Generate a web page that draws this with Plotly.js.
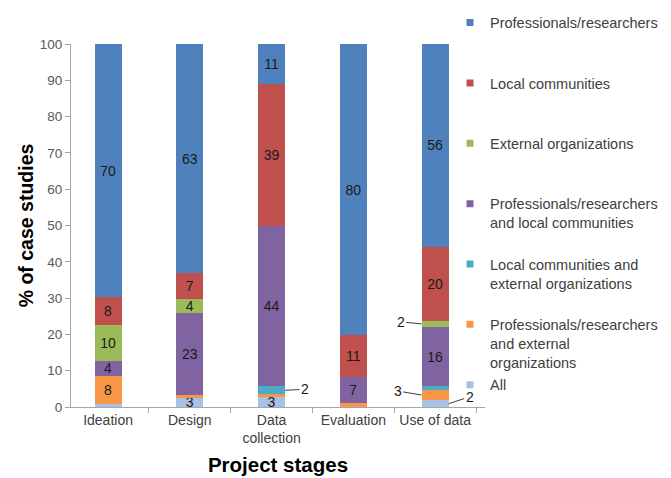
<!DOCTYPE html>
<html>
<head>
<meta charset="utf-8">
<script src="https://cdn.plot.ly/plotly-3.0.1.min.js"></script>
<style>html,body{margin:0;padding:0;background:#fff;}#chart{width:671px;height:478px;}</style>
</head>
<body>
<div id="chart"></div>
<script>
// Categories (tick labels)
var stages = ['Ideation', 'Design', 'Data<br>collection', 'Evaluation', 'Use of data'];

// Series values (% of case studies), bottom of stack to top
var allGroups        = [0.8, 2.6, 2.8, 0.0, 1.8];
var profExternal     = [7.8, 0.7, 0.7, 1.0, 3.0];
var localExternal    = [0.0, 0.0, 2.2, 0.0, 0.9];
var profLocal        = [4.1, 22.7, 44.3, 7.3, 16.3];
var externalOrgs     = [9.8, 3.8, 0.0, 0.0, 1.8];
var localCommunities = [7.8, 7.0, 39.0, 11.4, 20.4];
var professionals    = [69.7, 63.2, 11.0, 80.3, 55.8];

var seriesNames = [
  'All',
  'Professionals/researchers<br>and external<br>organizations',
  'Local communities and<br>external organizations<br> ',
  'Professionals/researchers<br>and local communities<br> ',
  'External organizations<br> <br> ',
  'Local communities<br> <br> ',
  'Professionals/researchers<br> <br> '
];
var seriesValues = [allGroups, profExternal, localExternal, profLocal, externalOrgs, localCommunities, professionals];
var seriesColors = ['#A7C0E3', '#F79646', '#4BACC6', '#8064A2', '#9BBB59', '#C0504D', '#4F81BD'];

// labels drawn outside with leader lines: [series index, category index]
var callouts = [[2, 2], [4, 4], [1, 4], [0, 4]];
function isCallout(s, i) {
  return callouts.some(function (c) { return c[0] === s && c[1] === i; });
}

var FONT = 'Liberation Sans, Arial, sans-serif';
var N = seriesValues.length;

var traces = seriesValues.map(function (vals, s) {
  return {
    type: 'bar',
    x: stages,
    y: vals,
    name: seriesNames[s],
    showlegend: false,
    marker: {color: seriesColors[s], line: {width: 0}},
    width: 0.33,
    text: vals.map(function (v, i) { return (v >= 2.5 && !isCallout(s, i)) ? String(Math.round(v)) : ''; }),
    texttemplate: '%{text}',
    textposition: 'inside',
    insidetextanchor: 'middle',
    textangle: 0,
    constraintext: 'none',
    insidetextfont: {family: FONT, size: 14, color: '#1a1a1a'},
    hoverinfo: 'skip'
  };
});

// legend entries (small square keys like the original)
seriesValues.forEach(function (vals, s) {
  traces.push({
    type: 'scatter', mode: 'markers',
    x: [null], y: [null],
    name: seriesNames[s],
    legendgroup: 'g' + s,
    legendrank: 100 + (N - 1 - s),
    marker: {symbol: 'square', size: 7, color: seriesColors[s], line: {width: 0}},
    hoverinfo: 'skip'
  });
});

function cumulativeMid(s, i) {
  var base = 0;
  for (var k = 0; k < s; k++) base += seriesValues[k][i];
  return base + seriesValues[s][i] / 2;
}

var calloutOffsets = [
  {dx: 0.165, ax: 20, ay: -1},
  {dx: -0.165, ax: -21, ay: -2},
  {dx: -0.165, ax: -24, ay: -4},
  {dx: 0.165, ax: 21, ay: -7}
];
var annotations = callouts.map(function (c, k) {
  var o = calloutOffsets[k];
  return {
    x: c[1] + o.dx, y: cumulativeMid(c[0], c[1]), xref: 'x', yref: 'y',
    text: String(Math.round(seriesValues[c[0]][c[1]])),
    showarrow: true, arrowhead: 0, arrowwidth: 1, arrowcolor: '#404040',
    ax: o.ax, ay: o.ay, standoff: 0,
    font: {family: FONT, size: 14, color: '#1a1a1a'}
  };
});

var layout = {
  width: 671, height: 478,
  margin: {l: 71, r: 186, t: 44, b: 71, pad: 0, autoexpand: false},
  paper_bgcolor: '#ffffff', plot_bgcolor: '#ffffff',
  barmode: 'stack',
  font: {family: FONT, size: 13, color: '#404040'},
  showlegend: true,
  legend: {
    x: 0.9155, xanchor: 'left', y: 1.1028, yanchor: 'top',
    traceorder: 'grouped', tracegroupgap: 0.8, valign: 'top',
    maxheight: 478,
    font: {family: FONT, size: 14.5, color: '#404040'},
    bgcolor: 'rgba(0,0,0,0)'
  },
  xaxis: {
    type: 'category',
    range: [-0.453, 4.61],
    showline: true, linecolor: '#a6a6a6', linewidth: 1,
    ticks: 'outside', tickson: 'boundaries', ticklen: 5, tickcolor: '#a6a6a6',
    showgrid: false, zeroline: false,
    tickfont: {family: FONT, size: 14, color: '#404040'},
    title: {text: 'Project stages', standoff: 12,
      font: {family: FONT, size: 20.5, color: '#000000', weight: 'bold'}}
  },
  yaxis: {
    range: [0, 100], dtick: 10,
    showline: true, linecolor: '#a6a6a6', linewidth: 1,
    ticks: 'outside', ticklen: 5, tickcolor: '#a6a6a6',
    showgrid: false, zeroline: false,
    tickfont: {family: FONT, size: 13.5, color: '#595959'},
    title: {text: '% of case studies', standoff: 0,
      font: {family: FONT, size: 19.5, color: '#000000', weight: 'bold'}}
  },
  annotations: annotations
};

Plotly.newPlot('chart', traces, layout, {displayModeBar: false, staticPlot: true});
</script>
</body>
</html>
